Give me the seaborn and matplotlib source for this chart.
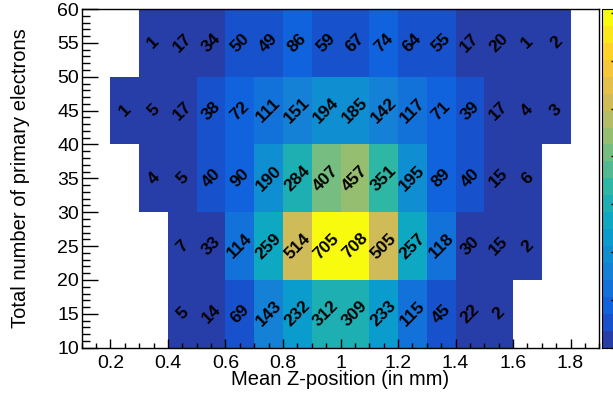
import numpy as np
import pandas as pd
import matplotlib
matplotlib.use("Agg")
import matplotlib.pyplot as plt
from matplotlib.colors import ListedColormap, LinearSegmentedColormap
from matplotlib.ticker import MultipleLocator
import seaborn as sns

# ---- data ----
x_edges = [round(0.1 + 0.1 * i, 2) for i in range(19)]          # 0.1 .. 1.9
y_edges = [10, 20, 30, 40, 50, 60]
row_10_20 = [0, 0, 0, 5, 14, 69, 143, 232, 312, 309, 233, 115, 45, 22, 2, 0, 0, 0]
row_20_30 = [0, 0, 0, 7, 33, 114, 259, 514, 705, 708, 505, 257, 118, 30, 15, 2, 0, 0]
row_30_40 = [0, 0, 4, 5, 40, 90, 190, 284, 407, 457, 351, 195, 89, 40, 15, 6, 0, 0]
row_40_50 = [0, 1, 5, 17, 38, 72, 111, 151, 194, 185, 142, 117, 71, 39, 17, 4, 3, 0]
row_50_60 = [0, 0, 1, 17, 34, 50, 49, 86, 59, 67, 74, 64, 55, 17, 20, 1, 2, 0]
rows = [row_10_20, row_20_30, row_30_40, row_40_50, row_50_60]
x_label = "Mean Z-position (in mm)"
y_label = "Total number of primary electrons"

# long-form table
xc = [(x_edges[i] + x_edges[i + 1]) / 2 for i in range(len(x_edges) - 1)]
yc = [(y_edges[j] + y_edges[j + 1]) / 2 for j in range(len(y_edges) - 1)]
recs = []
for j, r in enumerate(rows):
    for i, v in enumerate(r):
        recs.append({"x": xc[i], "y": yc[j], "w": v})
df = pd.DataFrame(recs)
zmax = df["w"].max()

# ROOT kBird palette, 20 contour levels
stops_r = [0.2082, 0.0592, 0.0780, 0.0232, 0.1802, 0.5301, 0.8186, 0.9956, 0.9764]
stops_g = [0.1664, 0.3599, 0.5041, 0.6419, 0.7178, 0.7492, 0.7328, 0.7862, 0.9832]
stops_b = [0.5293, 0.8684, 0.8385, 0.7914, 0.6425, 0.4662, 0.3499, 0.1968, 0.0539]
bird = LinearSegmentedColormap.from_list(
    "bird", list(zip(np.linspace(0, 1, 9), zip(stops_r, stops_g, stops_b))))
ncont = 20
cmap = ListedColormap([bird(min((i + 0.99) / ncont, 1.0)) for i in range(ncont)])

plt.rcParams["font.family"] = ["Liberation Sans", "DejaVu Sans"]
fig = plt.figure(figsize=(6.13, 3.96), dpi=100)
ax = fig.add_axes([81.7 / 613, 1 - 347.7 / 396, (599.3 - 81.7) / 613, (347.7 - 9) / 396])

sns.histplot(data=df, x="x", y="y", weights="w", bins=(x_edges, y_edges),
             cmap=cmap, vmin=0, vmax=zmax, ax=ax, cbar=False)

for _, rr in df.iterrows():
    if rr["w"] > 0:
        ax.text(rr["x"], rr["y"], f"{int(rr['w'])}", rotation=45,
                ha="center", va="center", fontsize=12.5, fontweight="bold",
                color="black", rotation_mode="anchor")

ax.set_xlim(x_edges[0], x_edges[-1])
ax.set_ylim(y_edges[0], y_edges[-1])
ax.xaxis.set_major_locator(MultipleLocator(0.2))
ax.xaxis.set_minor_locator(MultipleLocator(0.05))
ax.yaxis.set_major_locator(MultipleLocator(5))
ax.yaxis.set_minor_locator(MultipleLocator(1))
ax.xaxis.set_major_formatter(plt.FuncFormatter(lambda v, p: f"{v:g}"))
ax.tick_params(axis="x", which="major", direction="in", length=6.7, width=1,
               labelsize=14, pad=5)
ax.tick_params(axis="x", which="minor", direction="in", length=3.4, width=1)
ax.tick_params(axis="y", which="major", direction="in", length=11.3, width=1,
               labelsize=14, pad=2)
ax.tick_params(axis="y", which="minor", direction="in", length=5.6, width=1)
for s in ax.spines.values():
    s.set_linewidth(1)
ax.set_xlabel(x_label, fontsize=14.5)
ax.set_ylabel(y_label, fontsize=14.5)
ax.xaxis.set_label_coords(0.5, (347.7 - 370) / 338.7)
ax.yaxis.set_label_coords((30 - 81.7) / 517.6, 0.5)

# palette axis (partly outside the canvas, like the reference)
cax = fig.add_axes([602.3 / 613, 1 - 347.7 / 396, 28 / 613, (347.7 - 9) / 396])
mesh = ax.collections[0]
cb = fig.colorbar(mesh, cax=cax)
cb.outline.set_linewidth(0.8)
cb.set_ticks(np.arange(0, 701, 100))
cax.tick_params(axis="y", direction="in", length=14, width=1, labelright=False,
                right=True, left=False)
cax.minorticks_off()

fig.savefig("out.png", dpi=100)
